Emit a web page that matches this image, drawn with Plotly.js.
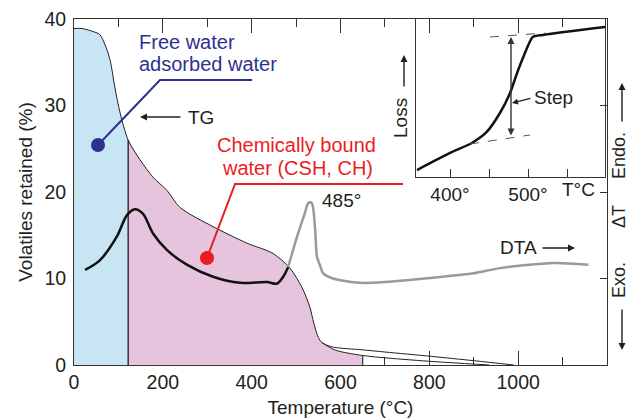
<!DOCTYPE html>
<html><head><meta charset="utf-8">
<script src="https://cdn.plot.ly/plotly-3.0.1.min.js"></script>
<style>body{margin:0;background:#fff}#chart{width:630px;height:419px}</style>
</head><body><div id="chart"></div>
<script>
// ---- data ----
const tgX = [0, 18, 40, 58, 70, 81, 92, 104, 122, 149, 178, 209, 239, 313, 389, 448, 486, 513, 531, 540, 550, 558, 580, 650, 700, 804, 900, 990];
const tgY = [38.9, 38.9, 38.6, 38.2, 37.0, 35.3, 32.1, 29.1, 26.0, 23.7, 21.7, 20.2, 18.2, 16.0, 14.1, 12.9, 11.2, 9.0, 6.7, 4.8, 3.2, 2.6, 2.1, 1.75, 1.5, 1.0, 0.5, 0];
const tgLowX = [558, 588, 650, 773, 935];
const tgLowY = [2.6, 1.73, 1.1, 0.53, 0];
const freeWaterLimit = 122;
const boundWaterLimit = 650;
const dtaBlackX = [25, 58, 96, 119, 137, 155, 178, 209, 254, 313, 374, 434, 457, 471, 482];
const dtaBlackY = [11.0, 12.1, 14.8, 17.3, 18.0, 17.5, 15.2, 13.3, 11.6, 10.2, 9.5, 9.6, 9.4, 10.2, 11.3];
const dtaGrayX = [482, 491, 505, 520, 527, 534, 538, 543, 547, 554, 561, 583, 600, 644, 700, 809, 900, 959, 1079, 1158];
const dtaGrayY = [11.3, 12.9, 15.3, 17.6, 18.7, 18.8, 18.3, 15.6, 12.5, 11.5, 10.6, 10.0, 9.8, 9.5, 9.6, 10.1, 10.6, 11.2, 11.8, 11.6];
const insetX = [357.7, 400, 428, 447, 464, 477, 486, 494, 506, 519, 599];
const insetY = [4.4, 15.2, 21.5, 28.5, 40.5, 53.2, 65.8, 75.9, 88.6, 89.9, 94.9];
const mainTickVals = [0, 200, 400, 600, 800, 1000];
const mainMinorTickVals = [100, 300, 500, 700, 900, 1100];
const yTickVals = [0, 10, 20, 30, 40];
const insetTickVals = [400, 450, 500, 550];
const insetTickText = ['400°', '', '500°', ''];

// ---- helpers ----
const FONT = 'Liberation Sans, Arial, sans-serif';
const INK = '#231f20';
const NAVY = '#2e3192';
const RED = '#ed1c24';
const L = 74, R = 607, T = 19, B = 365;
const px = x => (x - L) / (R - L);
const py = y => (B - y) / (B - T);
function interp(xs, ys, x) {
  for (let i = 1; i < xs.length; i++) {
    if (x <= xs[i]) { const t = (x - xs[i-1]) / (xs[i] - xs[i-1]); return ys[i-1] + t * (ys[i] - ys[i-1]); }
  }
  return ys[ys.length-1];
}
const blueX = [], blueY = [], pinkX = [], pinkY = [];
tgX.forEach((x, i) => {
  if (x <= freeWaterLimit) { blueX.push(x); blueY.push(tgY[i]); }
  if (x >= freeWaterLimit && x <= tgLowX[0]) { pinkX.push(x); pinkY.push(tgY[i]); }
});
tgLowX.forEach((x, i) => { if (x > tgLowX[0] && x <= boundWaterLimit) { pinkX.push(x); pinkY.push(tgLowY[i]); } });

const edgeA = interp(tgX, tgY, freeWaterLimit);
const edgeB = interp(tgLowX, tgLowY, boundWaterLimit);

const traces = [
  {x: blueX, y: blueY, type: 'scatter', mode: 'lines', fill: 'tozeroy', fillcolor: '#c8e5f4', line: {width: 0, shape: 'spline', smoothing: 0.8}, hoverinfo: 'skip'},
  {x: pinkX, y: pinkY, type: 'scatter', mode: 'lines', fill: 'tozeroy', fillcolor: '#e7c4de', line: {width: 0, shape: 'spline', smoothing: 0.8}, hoverinfo: 'skip'},
  {x: [freeWaterLimit, freeWaterLimit], y: [0, edgeA], type: 'scatter', mode: 'lines', line: {color: '#333', width: 1.5}},
  {x: [boundWaterLimit, boundWaterLimit], y: [0, edgeB], type: 'scatter', mode: 'lines', line: {color: '#333', width: 1.2}},
  {x: tgX, y: tgY, type: 'scatter', mode: 'lines', line: {color: '#222', width: 1, shape: 'spline', smoothing: 0.8}},
  {x: tgLowX, y: tgLowY, type: 'scatter', mode: 'lines', line: {color: '#222', width: 1, shape: 'spline', smoothing: 0.8}},
  {x: dtaGrayX, y: dtaGrayY, type: 'scatter', mode: 'lines', line: {color: '#9a9a9a', width: 2.5, shape: 'spline', smoothing: 0.7}},
  {x: dtaBlackX, y: dtaBlackY, type: 'scatter', mode: 'lines', line: {color: '#111', width: 2.5, shape: 'spline', smoothing: 0.9}},
  {x: insetX, y: insetY, xaxis: 'x2', yaxis: 'y2', type: 'scatter', mode: 'lines', line: {color: '#111', width: 2.5, shape: 'spline', smoothing: 0.6}},
  {x: [0, 1], y: [0, 0], yaxis: 'y3', type: 'scatter', mode: 'lines', line: {width: 0}, hoverinfo: 'skip'}
];

function txt(text, x, y, opts) {
  return Object.assign({text: text, xref: 'paper', yref: 'paper', x: px(x), y: py(y), showarrow: false,
    xanchor: 'center', yanchor: 'middle', font: {family: FONT, size: 19, color: INK}}, opts || {});
}
function arr(tipX, tipY, ax, ay, opts) {
  return Object.assign({text: '', xref: 'paper', yref: 'paper', x: px(tipX), y: py(tipY), ax: ax, ay: ay,
    showarrow: true, arrowhead: 2, arrowsize: 1, arrowwidth: 1.4, arrowcolor: INK}, opts || {});
}

const annotations = [
  txt('Free water', 137, 42, {xanchor: 'left', font: {family: FONT, size: 20, color: NAVY}}),
  txt('adsorbed water', 137, 64, {xanchor: 'left', font: {family: FONT, size: 20, color: NAVY}}),
  txt('TG', 201, 117),
  arr(140, 117, 42, 0),
  txt('Chemically bound', 296, 145, {font: {family: FONT, size: 20, color: RED}}),
  txt('water (CSH, CH)', 297, 168, {font: {family: FONT, size: 20, color: RED}}),
  txt('485°', 341, 200),
  txt('DTA', 518, 248),
  arr(575, 248, -34, 0),
  txt('T°C', 578, 190),
  txt('Loss', 400, 118, {textangle: -90}),
  arr(404, 55, 0, 33),
  txt('Step', 553, 98),
  arr(512, 103, 20, -5, {arrowwidth: 1.2}),
  arr(511, 37, 0, 100, {arrowside: 'end+start', arrowcolor: '#333', arrowwidth: 1.4}),
  txt('Endo.', 619, 156, {textangle: -90, font: {family: FONT, size: 18, color: INK}}),
  txt('ΔT', 619, 217, {textangle: -90, font: {family: FONT, size: 18, color: INK}}),
  txt('Exo.', 619, 280, {textangle: -90, font: {family: FONT, size: 18, color: INK}}),
  arr(622, 83, 0, 40),
  arr(622, 350, 0, -42)
];

function pathPx(pts) {
  return pts.map((p, i) => (i ? 'L' : 'M') + px(p[0]) + ',' + py(p[1])).join(' ');
}
const shapes = [
  {type: 'path', xref: 'paper', yref: 'paper', path: pathPx([[98,145],[160,80],[252,80]]), line: {color: NAVY, width: 2}},
  {type: 'circle', xref: 'paper', yref: 'paper', xsizemode: 'pixel', ysizemode: 'pixel', xanchor: px(98), yanchor: py(145), x0: -7, x1: 7, y0: -7, y1: 7, fillcolor: NAVY, line: {width: 0}},
  {type: 'path', xref: 'paper', yref: 'paper', path: pathPx([[207,258],[235,184],[403,184]]), line: {color: RED, width: 2}},
  {type: 'circle', xref: 'paper', yref: 'paper', xsizemode: 'pixel', ysizemode: 'pixel', xanchor: px(207), yanchor: py(258), x0: -7, x1: 7, y0: -7, y1: 7, fillcolor: RED, line: {width: 0}},
  {type: 'path', xref: 'paper', yref: 'paper', path: pathPx([[490,37],[545,33]]), line: {color: '#555', width: 1, dash: 'dash'}},
  {type: 'path', xref: 'paper', yref: 'paper', path: pathPx([[470,144],[530,135]]), line: {color: '#555', width: 1, dash: 'dash'}}
];

const layout = {
  width: 630, height: 419,
  margin: {l: L, r: 630 - R, t: T, b: 419 - B},
  paper_bgcolor: '#fff', plot_bgcolor: 'rgba(0,0,0,0)',
  showlegend: false,
  font: {family: FONT, size: 19, color: INK},
  xaxis: {range: [0, 1200], tickvals: mainTickVals, ticks: 'inside', ticklen: 14, tickcolor: '#333',
    minor: {tickvals: mainMinorTickVals, ticks: 'inside', ticklen: 8, tickcolor: '#333', showgrid: false},
    showline: true, linecolor: '#333', linewidth: 1, mirror: 'ticks', showgrid: false, zeroline: false, layer: 'below traces',
    tickfont: {family: FONT, size: 19.5, color: INK},
    title: {text: 'Temperature (°C)', font: {family: FONT, size: 19, color: INK}, standoff: 8}},
  yaxis: {range: [0, 40], tickvals: yTickVals, ticks: '', showline: true, linecolor: '#333', linewidth: 1, mirror: true,
    showgrid: false, zeroline: false, tickfont: {family: FONT, size: 19.5, color: INK}, ticklabelstandoff: 3,
    title: {text: 'Volatiles retained (%)', font: {family: FONT, size: 19, color: INK}, standoff: 6}},
  yaxis3: {range: [0, 40], overlaying: 'y', side: 'right', tickvals: [10, 20, 30], ticks: 'inside', ticklen: 7, tickcolor: '#333',
    showticklabels: false, showline: false, showgrid: false, zeroline: false},
  xaxis2: {domain: [px(416), px(605)], anchor: 'y2', range: [356.4, 598.7], tickvals: insetTickVals, ticktext: insetTickText,
    ticks: 'inside', ticklen: 8, tickcolor: '#333', showline: true, linecolor: '#333', linewidth: 1, mirror: true,
    showgrid: false, zeroline: false, tickfont: {family: FONT, size: 19, color: INK}},
  yaxis2: {domain: [py(177), py(19)], anchor: 'x2', range: [0, 100], showticklabels: false, ticks: '', showline: true,
    linecolor: '#333', linewidth: 1, mirror: true, showgrid: false, zeroline: false},
  annotations: annotations,
  shapes: shapes
};

Plotly.newPlot('chart', traces, layout, {staticPlot: true});
</script></body></html>
